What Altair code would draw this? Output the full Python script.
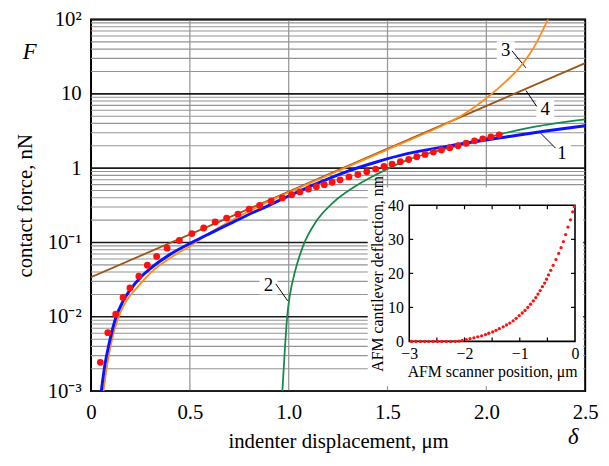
import altair as alt
import pandas as pd

FONT = "Liberation Serif"

# ---------------- main chart data (x = indenter displacement, um; log10 of F in nN) ----------
blue_x = [0.052, 0.07, 0.09, 0.127, 0.16, 0.2, 0.25, 0.3, 0.4, 0.51, 0.6, 0.7, 0.8, 0.9, 1.0,
          1.1, 1.2, 1.3, 1.44, 1.6, 1.77, 1.94, 2.1, 2.3, 2.5]
blue_lg = [-3.0, -2.65, -2.38, -2.0, -1.8, -1.63, -1.47, -1.35, -1.16, -1.0, -0.88, -0.75, -0.62,
           -0.5, -0.375, -0.255, -0.145, -0.04, 0.08, 0.195, 0.28, 0.355, 0.42, 0.5, 0.57]

green_x = [0.968, 0.981, 0.993, 1.006, 1.031, 1.073, 1.14, 1.223, 1.323, 1.44, 1.606, 1.773,
           1.94, 2.072, 2.24, 2.5]
green_lg = [-3.0, -2.42, -1.98, -1.71, -1.4, -1.045, -0.712, -0.467, -0.267, -0.09, 0.115, 0.247,
            0.36, 0.457, 0.555, 0.657]

orange_x = [0.063, 0.08, 0.1, 0.14, 0.18, 0.235, 0.313, 0.4, 0.5, 0.646, 0.813, 0.963, 1.1, 1.3,
            1.5, 1.7, 1.8, 1.9, 2.0, 2.1, 2.17, 2.22, 2.26, 2.29, 2.315]
orange_lg = [-3.0, -2.68, -2.38, -2.0, -1.78, -1.6, -1.38, -1.21, -1.05, -0.8, -0.56, -0.37,
             -0.21, 0.02, 0.25, 0.48, 0.6, 0.75, 0.94, 1.17, 1.36, 1.54, 1.72, 1.88, 2.02]

brown_x = [0.0, 1.25, 2.5]
brown_lg = [-1.467, -0.027, 1.413]

dots_x = [0.047, 0.085, 0.125, 0.162, 0.197, 0.242, 0.285, 0.332, 0.385, 0.447, 0.51, 0.57,
          0.628, 0.686, 0.743, 0.8, 0.853, 0.911, 0.968, 1.015, 1.057, 1.1, 1.14, 1.18, 1.22,
          1.26, 1.305, 1.35, 1.395, 1.44, 1.482, 1.523, 1.565, 1.607, 1.648, 1.69, 1.732,
          1.773, 1.815, 1.857, 1.898, 1.94, 1.982, 2.023, 2.065]
dots_lg = [-2.613, -2.213, -1.965, -1.739, -1.613, -1.453, -1.307, -1.187, -1.076, -0.973,
           -0.88, -0.805, -0.725, -0.672, -0.619, -0.552, -0.503, -0.445, -0.4, -0.357, -0.32,
           -0.283, -0.25, -0.222, -0.19, -0.157, -0.118, -0.085, -0.048, -0.012, 0.022, 0.055,
           0.087, 0.117, 0.153, 0.185, 0.216, 0.244, 0.275, 0.302, 0.335, 0.368, 0.395, 0.42,
           0.448]

# curve labels and leader lines
lab_text = ["3", "4", "1", "2"]
lab_x = [2.098, 2.298, 2.382, 0.898]
lab_y = [38.6, 6.3, 1.585, 0.0264]
lead_x1 = [2.13, 2.2, 2.275, 0.935]
lead_y1 = [37.8, 11.1, 2.95, 0.0277]
lead_x2 = [2.2, 2.255, 2.35, 0.995]
lead_y2 = [22.4, 6.77, 1.86, 0.0164]

# axis ticks / grid values
x_ticks = [0, 0.5, 1.0, 1.5, 2.0, 2.5]
x_grid = [0.5, 1.0, 1.5, 2.0]
y_major = [0.001, 0.01, 0.1, 1, 10, 100]
y_minor = [0.002, 0.003, 0.004, 0.005, 0.006, 0.007, 0.008, 0.009,
           0.02, 0.03, 0.04, 0.05, 0.06, 0.07, 0.08, 0.09,
           0.2, 0.3, 0.4, 0.5, 0.6, 0.7, 0.8, 0.9,
           2, 3, 4, 5, 6, 7, 8, 9,
           20, 30, 40, 50, 60, 70, 80, 90]

# ---------------- inset data ----------------
inset_x = [-2.96, -2.88, -2.80, -2.72, -2.65, -2.57, -2.49, -2.41, -2.33, -2.25, -2.17, -2.1,
           -2.04, -1.97, -1.9, -1.83, -1.76, -1.69, -1.62, -1.56, -1.49, -1.43, -1.37, -1.3,
           -1.24, -1.18, -1.12, -1.065, -1.01, -0.955, -0.905, -0.855, -0.805, -0.755, -0.71,
           -0.67, -0.63, -0.59, -0.55, -0.515, -0.48, -0.44, -0.395, -0.345, -0.296, -0.252,
           -0.21, -0.17, -0.128, -0.083, -0.042, -0.01]
inset_y = [0, 0, 0, 0, 0, 0, 0, 0, 0, 0, 0.02, 0.1,
           0.3, 0.55, 0.8, 1.05, 1.35, 1.65, 2.0, 2.4, 2.8, 3.25, 3.75, 4.3,
           4.85, 5.4, 6.05, 6.8, 7.6, 8.35, 9.1, 10.0, 10.95, 11.9, 12.9,
           13.9, 14.95, 16.1, 17.15, 18.3, 19.55, 20.9, 22.35, 24.05, 25.85, 27.55,
           29.35, 31.4, 33.6, 35.75, 38.1, 39.6]
inset_xticks = [-2.5, -2.0, -1.5, -1.0, -0.5]
inset_yticks = [10, 20, 30]

# ---------------- layout constants (pixels, relative to main plot) ----------------
W, H = 500, 376
IL, IR, IT, IB = 322, 489.7, 188, 325.7

XS = alt.Scale(domain=[0, 2.5], nice=False, zero=False)
YS = alt.Scale(type="log", domain=[1e-3, 1e2], nice=False)
IX = alt.Scale(domain=[-3, 0], range=[IL, IR], nice=False, zero=False)
IY = alt.Scale(domain=[0, 40], range=[IB, IT], nice=False, zero=False)

x_axis = alt.Axis(orient="bottom", values=x_ticks, grid=False, ticks=False, domain=False,
                  labelExpr="datum.value == 0 ? '0' : format(datum.value, '.1f')",
                  labelFont=FONT, labelFontSize=21, labelColor="black", labelPadding=11,
                  labelFlush=False, title="indenter displacement, \u03bcm", titleFont=FONT,
                  titleFontSize=21, titleFontWeight="normal", titleColor="black",
                  titlePadding=8)
y_axis = alt.Axis(orient="left", values=y_major, grid=False, ticks=False, domain=False,
                  labelOverlap=False,
                  labelExpr=("datum.value == 1 ? '1' : datum.value == 10 ? '10' : "
                             "datum.value == 100 ? '10\u00b2' : datum.value == 0.1 ? '10\u207b\u00b9' : "
                             "datum.value == 0.01 ? '10\u207b\u00b2' : '10\u207b\u00b3'"),
                  labelFont=FONT, labelFontSize=21, labelColor="black", labelPadding=10,
                  title="contact force, nN", titleFont=FONT, titleFontSize=21,
                  titleFontWeight="normal", titleColor="black", titlePadding=12)

one = pd.DataFrame({"a": [0]})


def curve_df(xs, lgs):
    return pd.DataFrame({"x": xs, "F": [10 ** v for v in lgs]})


def line(xs, lgs, color, width, axis=False):
    return alt.Chart(curve_df(xs, lgs)).mark_line(
        color=color, strokeWidth=width, interpolate="monotone", clip=True
    ).encode(
        x=alt.X("x:Q", scale=XS, axis=x_axis if axis else None),
        y=alt.Y("F:Q", scale=YS, axis=y_axis if axis else None),
        order="x:Q",
    )


# grid lines
vgrid = alt.Chart(pd.DataFrame({"g": x_grid})).mark_rule(color="#9a9a9a", strokeWidth=1.3).encode(
    x=alt.X("g:Q", scale=XS, axis=None), y=alt.value(0), y2=alt.value(H))
hminor = alt.Chart(pd.DataFrame({"g": y_minor})).mark_rule(color="#949494", strokeWidth=1.1).encode(
    y=alt.Y("g:Q", scale=YS, axis=None), x=alt.value(0), x2=alt.value(W))
hmajor = alt.Chart(pd.DataFrame({"g": y_major})).mark_rule(color="#1a1a1a", strokeWidth=1.6).encode(
    y=alt.Y("g:Q", scale=YS, axis=None), x=alt.value(0), x2=alt.value(W))

brown = line(brown_x, brown_lg, "#9b5517", 1.8, axis=True)
orange = line(orange_x, orange_lg, "#ff8c1a", 1.8)
green = line(green_x, green_lg, "#17884a", 1.8)
blue = line(blue_x, blue_lg, "#0a14ff", 3.0)

dots = alt.Chart(curve_df(dots_x, dots_lg)).mark_circle(color="#ff1010", size=48, opacity=1).encode(
    x=alt.X("x:Q", scale=XS, axis=None), y=alt.Y("F:Q", scale=YS, axis=None))

lead = alt.Chart(pd.DataFrame({"x": lead_x1, "y": lead_y1, "x2": lead_x2, "y2": lead_y2})).mark_rule(
    color="black", strokeWidth=1).encode(
    x=alt.X("x:Q", scale=XS, axis=None), y=alt.Y("y:Q", scale=YS, axis=None), x2="x2:Q", y2="y2:Q")

lab_df = pd.DataFrame({"x": lab_x, "y": lab_y, "t": lab_text})
lab_bg = alt.Chart(lab_df).mark_square(color="white", size=330, opacity=1).encode(
    x=alt.X("x:Q", scale=XS, axis=None), y=alt.Y("y:Q", scale=YS, axis=None))
labs = alt.Chart(lab_df).mark_text(font=FONT, fontSize=19, color="black").encode(
    x=alt.X("x:Q", scale=XS, axis=None), y=alt.Y("y:Q", scale=YS, axis=None), text="t:N")

f_txt = alt.Chart(one).mark_text(text="F", font=FONT, fontSize=23, fontStyle="italic",
                                 color="black").encode(x=alt.value(-62), y=alt.value(33))
d_txt = alt.Chart(one).mark_text(text="\u03b4", font=FONT, fontSize=23, fontStyle="italic",
                                 color="black").encode(x=alt.value(488), y=alt.value(423))

# ---------------- inset ----------------
ibg = alt.Chart(one).mark_rect(color="white").encode(
    x=alt.value(280), x2=alt.value(498), y=alt.value(170), y2=alt.value(371))
iframe = alt.Chart(one).mark_rect(fillOpacity=0, stroke="black", strokeWidth=1.6).encode(
    x=alt.value(IL), x2=alt.value(IR), y=alt.value(IT), y2=alt.value(IB))

ix_axis = alt.Axis(orient="bottom", offset=IB - H, values=[-3, -2, -1, 0], ticks=False,
                   domain=False, grid=False, labelFont=FONT, labelFontSize=16,
                   labelColor="black", labelPadding=4, labelFlush=False, format="d",
                   title="AFM scanner position, \u03bcm", titleFont=FONT, titleFontSize=16,
                   titleFontWeight="normal", titleColor="black", titlePadding=3, zindex=2)
iy_axis = alt.Axis(orient="left", offset=-IL, values=[0, 10, 20, 30, 40], ticks=False,
                   domain=False, grid=False, labelFont=FONT, labelFontSize=16,
                   labelColor="black", labelPadding=6, title="AFM cantilever deflection, nm",
                   titleFont=FONT, titleFontSize=16, titleFontWeight="normal",
                   titleColor="black", titlePadding=2, zindex=2)

idots = alt.Chart(pd.DataFrame({"ix": inset_x, "iy": inset_y})).mark_circle(
    color="#ff1010", size=11, opacity=1).encode(
    x=alt.X("ix:Q", scale=IX, axis=ix_axis), y=alt.Y("iy:Q", scale=IY, axis=iy_axis))

xt = pd.DataFrame({"ix": inset_xticks})
yt = pd.DataFrame({"iy": inset_yticks})
tb = alt.Chart(xt).mark_rule(color="black", strokeWidth=1.2).encode(
    x=alt.X("ix:Q", scale=IX, axis=None), y=alt.value(IB), y2=alt.value(IB - 4))
tt = alt.Chart(xt).mark_rule(color="black", strokeWidth=1.2).encode(
    x=alt.X("ix:Q", scale=IX, axis=None), y=alt.value(IT), y2=alt.value(IT + 4))
tl = alt.Chart(yt).mark_rule(color="black", strokeWidth=1.2).encode(
    y=alt.Y("iy:Q", scale=IY, axis=None), x=alt.value(IL), x2=alt.value(IL + 4))
tr = alt.Chart(yt).mark_rule(color="black", strokeWidth=1.2).encode(
    y=alt.Y("iy:Q", scale=IY, axis=None), x=alt.value(IR), x2=alt.value(IR - 4))

chart = alt.layer(
    vgrid, hminor, hmajor, brown, lab_bg, lead, labs, orange, green, blue, dots,
    f_txt, d_txt, ibg, iframe, tb, tt, tl, tr, idots
).resolve_scale(x="independent", y="independent").properties(
    width=W, height=H,
    autosize=alt.AutoSizeParams(type="none"),
    padding={"left": 84, "top": 9, "right": 16, "bottom": 64},
    background="white",
).configure_view(stroke="black", strokeWidth=2)

chart.save("out.html", embed_options={"renderer": "svg", "actions": False})
